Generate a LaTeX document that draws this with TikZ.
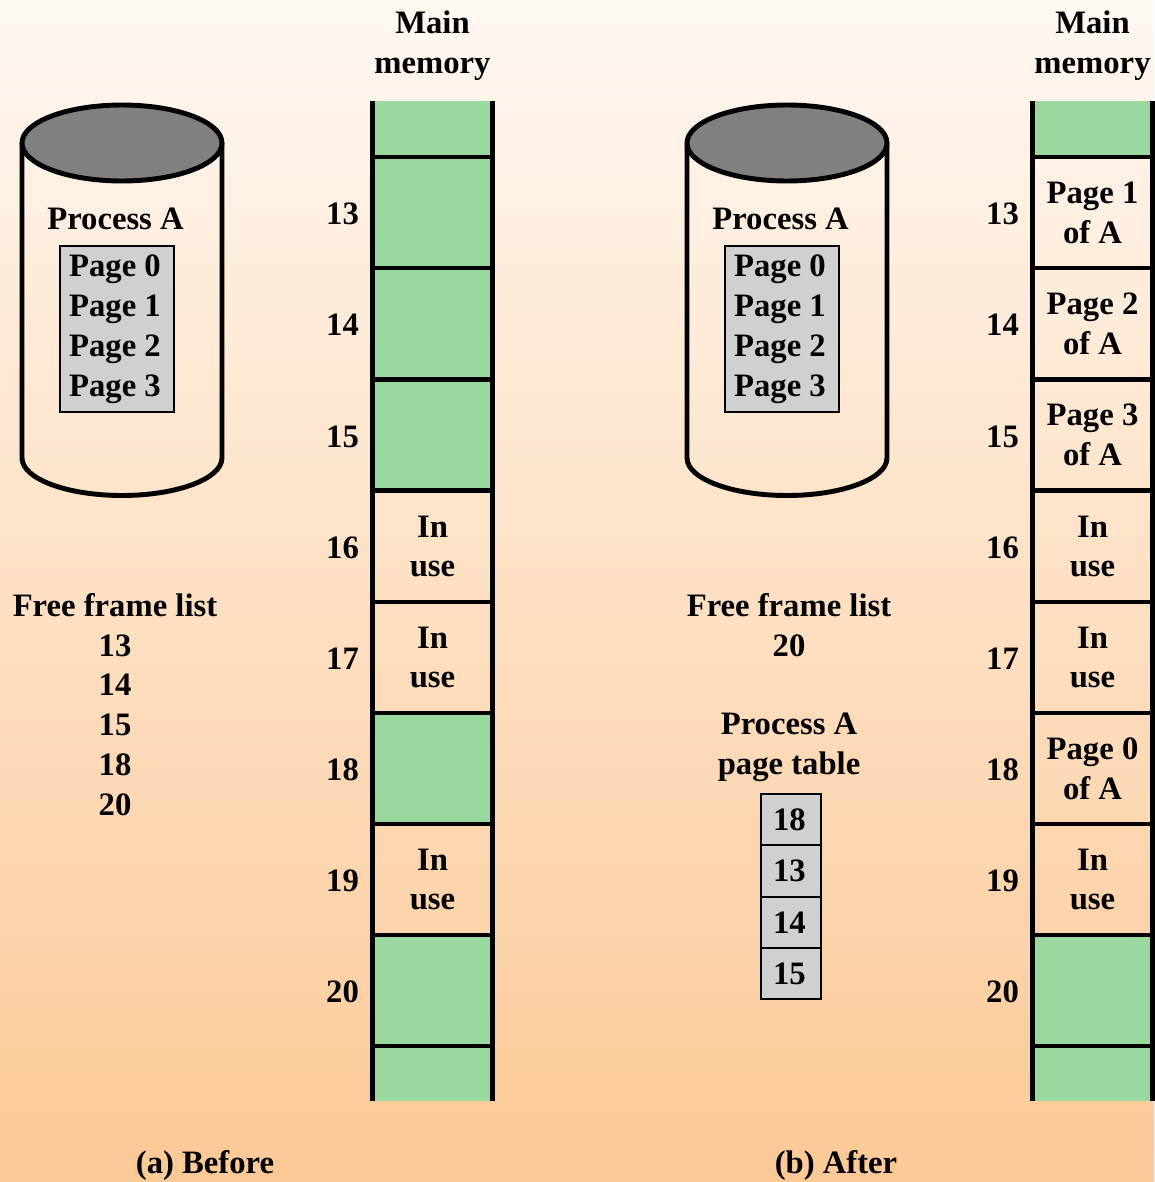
\documentclass[tikz,border=0pt]{standalone}
\usepackage{fontspec}
\setmainfont{Liberation Serif}
\usepackage{tikz}
\usetikzlibrary{calc}

\definecolor{freegreen}{HTML}{99D9A0}
\definecolor{pagegray}{HTML}{D0D0D0}
\definecolor{paletop}{RGB}{255,248,242}
\definecolor{palebottom}{RGB}{251,201,150}

\begin{document}
\begin{tikzpicture}[x=0.02cm,y=-0.02cm,
  text node/.style={font=\fontsize{18.6}{22.7}\selectfont\bfseries,align=center,inner sep=0pt},
  frame node/.style={text node,draw,line width=2.7pt,outer sep=0pt,minimum width=2.39cm,minimum height=2.22cm},
  free node/.style={frame node,fill=freegreen},
  end node/.style={fill=freegreen,outer sep=0pt,inner sep=0pt,minimum width=2.39cm},
  page node/.style={text node,draw,line width=1.1pt,fill=pagegray,align=left,minimum width=2.28cm,minimum height=3.32cm},
  cell node/.style={text node,draw,line width=1.1pt,fill=pagegray,align=left,inner xsep=0.24cm,text width=0.72cm,minimum height=1.03cm,outer sep=0pt},
  rail/.style={line width=2.7pt},
  disk/.style={line width=2.8pt}]

% background
\shade[top color=paletop,bottom color=palebottom] (0,0) rectangle (1154,1182);

% (a) before
\node[text node](M1) at (432.5,46) {Main\\memory};
\draw[disk] (22,143) -- (22,458) arc[start angle=180,end angle=360,x radius=2cm,y radius=0.75cm] -- (222,143);
\draw[disk,fill=gray] (122,143) ellipse[x radius=2cm,y radius=0.76cm];
\node[text node](P1) at (115.5,219) {Process A};
\node[page node](T1) at (117,329) {Page 0\kern2.3pt\\Page 1\\Page 2\\Page 3};
\node[text node](F1) at (115,704.5) {Free frame list\\13\\14\\15\\18\\20};
\node[text node](C1) at (205,1165) {(a) Before};

\node[end node,minimum height=1.12cm](A0) at (432.5,129) {};
\node[end node,minimum height=1.1cm](A21) at (432.5,1073.5) {};
\node[free node](A13) at (432.5,212.5) {};
\node[free node](A14) at (432.5,323.5) {};
\node[free node](A15) at (432.5,435) {};
\node[frame node](A16) at (432.5,546.5) {In\\use};
\node[frame node](A17) at (432.5,657.5) {In\\use};
\node[free node](A18) at (432.5,768.5) {};
\node[frame node](A19) at (432.5,879.5) {In\\use};
\node[free node](A20) at (432.5,990.5) {};
\draw[rail] (A0.north west) -- (A21.south west);
\draw[rail] (A0.north east) -- (A21.south east);

\node[text node](L13) at ($(A13)+(-90,1.5)$) {13};
\node[text node](L14) at ($(A14)+(-90,1.5)$) {14};
\node[text node](L15) at ($(A15)+(-90,1.5)$) {15};
\node[text node](L16) at ($(A16)+(-90,1.5)$) {16};
\node[text node](L17) at ($(A17)+(-90,1.5)$) {17};
\node[text node](L18) at ($(A18)+(-90,1.5)$) {18};
\node[text node](L19) at ($(A19)+(-90,1.5)$) {19};
\node[text node](L20) at ($(A20)+(-90,1.5)$) {20};

% (b) after
\node[text node](M2) at (1092.5,46) {Main\\memory};
\draw[disk] (687,143) -- (687,458) arc[start angle=180,end angle=360,x radius=2cm,y radius=0.75cm] -- (887,143);
\draw[disk,fill=gray] (787,143) ellipse[x radius=2cm,y radius=0.76cm];
\node[text node](P2) at (780.5,219) {Process A};
\node[page node](T2) at (782,329) {Page 0\kern2.3pt\\Page 1\\Page 2\\Page 3};
\node[text node](F2) at (789,625) {Free frame list\\20};
\node[text node](P3) at (789,747.5) {Process A\\page table};
\node[cell node](R1) at (791,819.5) {18};
\node[cell node](R2) at (791,871) {13};
\node[cell node](R3) at (791,922.5) {14};
\node[cell node](R4) at (791,973.5) {15};
\node[text node](C2) at (836,1165) {(b) After};

\node[end node,minimum height=1.12cm](B0) at (1092.5,129) {};
\node[end node,minimum height=1.1cm](B21) at (1092.5,1073.5) {};
\node[frame node](B13) at (1092.5,212.5) {Page 1\\of A};
\node[frame node](B14) at (1092.5,323.5) {Page 2\\of A};
\node[frame node](B15) at (1092.5,435) {Page 3\\of A};
\node[frame node](B16) at (1092.5,546.5) {In\\use};
\node[frame node](B17) at (1092.5,657.5) {In\\use};
\node[frame node](B18) at (1092.5,768.5) {Page 0\\of A};
\node[frame node](B19) at (1092.5,879.5) {In\\use};
\node[free node](B20) at (1092.5,990.5) {};
\draw[rail] (B0.north west) -- (B21.south west);
\draw[rail] (B0.north east) -- (B21.south east);

\node[text node](K13) at ($(B13)+(-90,1.5)$) {13};
\node[text node](K14) at ($(B14)+(-90,1.5)$) {14};
\node[text node](K15) at ($(B15)+(-90,1.5)$) {15};
\node[text node](K16) at ($(B16)+(-90,1.5)$) {16};
\node[text node](K17) at ($(B17)+(-90,1.5)$) {17};
\node[text node](K18) at ($(B18)+(-90,1.5)$) {18};
\node[text node](K19) at ($(B19)+(-90,1.5)$) {19};
\node[text node](K20) at ($(B20)+(-90,1.5)$) {20};

\end{tikzpicture}
\end{document}
